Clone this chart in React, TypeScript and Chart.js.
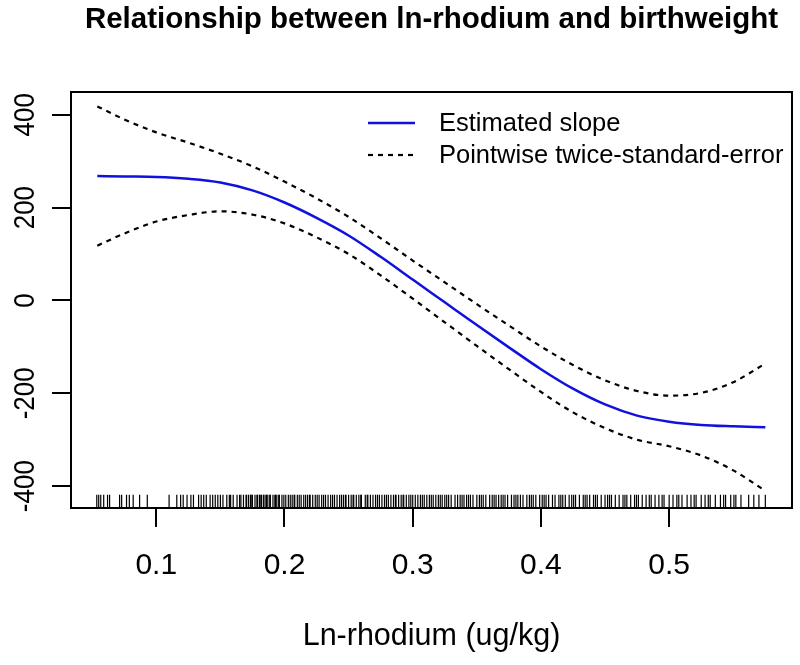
import React, { useEffect, useRef } from "react";
import { Chart, registerables } from "chart.js";

Chart.register(...registerables);

// ---- data ----
const xGrid = [0.054, 0.075, 0.1, 0.125, 0.15, 0.175, 0.2, 0.225, 0.25, 0.275, 0.3, 0.325, 0.35, 0.375, 0.4, 0.425, 0.45, 0.475, 0.5, 0.525, 0.55, 0.575];
const estimatedSlope = [268, 267, 266, 262, 254, 237, 211, 178, 140, 94, 45, -4, -53, -101, -148, -190, -224, -248, -261, -268, -271, -273];
const upperBand = [418, 390, 362, 340, 316, 289, 256, 220, 180, 134, 86, 39, -8, -54, -99, -139, -172, -195, -205, -199, -176, -136];
const lowerBand = [118, 144, 170, 184, 192, 185, 166, 136, 100, 54, 4, -47, -98, -148, -197, -241, -275, -300, -314, -334, -366, -410];

const rugValues = [
  0.0536, 0.0551, 0.0567, 0.059, 0.062, 0.0636, 0.0714, 0.073, 0.0768, 0.079, 0.082, 0.087, 0.093, 0.110,
  0.116, 0.119, 0.121, 0.124, 0.127, 0.129, 0.133, 0.135, 0.137, 0.139, 0.142, 0.144, 0.146, 0.148, 0.150,
  0.152, 0.155, 0.157, 0.158, 0.160, 0.163, 0.165, 0.166, 0.168, 0.170, 0.172, 0.174, 0.175, 0.177, 0.179,
  0.181, 0.182, 0.184, 0.186, 0.187, 0.189, 0.191, 0.193, 0.194, 0.196, 0.198, 0.201, 0.203, 0.206, 0.208,
  0.210, 0.213, 0.215, 0.218, 0.220, 0.222, 0.224, 0.227, 0.229, 0.232, 0.234, 0.236, 0.239, 0.241, 0.243,
  0.246, 0.248, 0.250, 0.252, 0.254, 0.256, 0.258, 0.260, 0.263, 0.265, 0.267, 0.269, 0.271, 0.274, 0.276,
  0.278, 0.281, 0.283, 0.285, 0.287, 0.289, 0.291, 0.293, 0.295, 0.297, 0.300, 0.302, 0.304, 0.306, 0.309,
  0.311, 0.313, 0.316, 0.318, 0.320, 0.323, 0.325, 0.328, 0.330, 0.333, 0.335, 0.337, 0.340, 0.342, 0.345,
  0.347, 0.350, 0.352, 0.355, 0.357, 0.360, 0.362, 0.365, 0.367, 0.369, 0.372, 0.374, 0.377, 0.379, 0.382,
  0.384, 0.386, 0.389, 0.391, 0.394, 0.396, 0.399, 0.401, 0.404, 0.406, 0.409, 0.411, 0.414, 0.417, 0.419,
  0.422, 0.424, 0.427, 0.430, 0.433, 0.436, 0.438, 0.441, 0.444, 0.447, 0.450, 0.452, 0.455, 0.458, 0.461,
  0.464, 0.467, 0.470, 0.473, 0.476, 0.479, 0.482, 0.486, 0.489, 0.492, 0.496, 0.500, 0.503, 0.506, 0.510,
  0.514, 0.517, 0.521, 0.525, 0.528, 0.532, 0.536, 0.540, 0.544, 0.548, 0.552, 0.556, 0.562, 0.566, 0.570, 0.575,
  0.1705, 0.1735, 0.1785, 0.1805, 0.1835, 0.1855, 0.1885, 0.1925, 0.1955, 0.1995, 0.2045, 0.2075, 0.2115,
  0.2165, 0.2195, 0.2255, 0.2305, 0.2375, 0.2445, 0.2475, 0.2535, 0.2595, 0.2645, 0.2725, 0.2795, 0.2865,
  0.2925, 0.2985, 0.3075, 0.3145, 0.3215, 0.3265, 0.3385, 0.3435, 0.3535, 0.3635, 0.3705, 0.3805, 0.3925,
  0.4025, 0.4155, 0.4255, 0.4345, 0.4425, 0.4535, 0.4655, 0.4745, 0.4845, 0.4945, 0.5075, 0.5195, 0.5305,
  0.5425, 0.5505,
];

const xTicks = [0.1, 0.2, 0.3, 0.4, 0.5];
const yTicks = [-400, -200, 0, 200, 400];
const xTickLabels = ["0.1", "0.2", "0.3", "0.4", "0.5"];
const yTickLabels = ["-400", "-200", "0", "200", "400"];

const titleText = "Relationship between ln-rhodium and birthweight";
const xAxisTitle = "Ln-rhodium (ug/kg)";
const seriesLabels = ["Estimated slope", "Pointwise twice-standard-error"];

// ---- styling / layout ----
const FONT = "'Liberation Sans', Arial, Helvetica, sans-serif";
const X_MIN = 0.0335;
const X_MAX = 0.5958;
const Y_MIN = -447;
const Y_MAX = 449;
const RUG_Y = -433;
const BLUE = "#1111dd";

const plotDecor = {
  id: "plotDecor",
  afterDraw(chart: any) {
    const { ctx, chartArea } = chart;
    const ys = chart.scales.y;
    ctx.save();
    // box
    ctx.strokeStyle = "#000";
    ctx.lineWidth = 2;
    ctx.setLineDash([]);
    ctx.strokeRect(chartArea.left, chartArea.top, chartArea.right - chartArea.left, chartArea.bottom - chartArea.top);

    // main title
    ctx.fillStyle = "#000";
    ctx.font = `bold 29.5px ${FONT}`;
    ctx.textAlign = "center";
    ctx.textBaseline = "alphabetic";
    ctx.fillText(titleText, (chartArea.left + chartArea.right) / 2, 28);

    // y tick labels (rotated, as in R)
    ctx.font = `26px ${FONT}`;
    yTicks.forEach((v, i) => {
      const py = ys.getPixelForValue(v);
      ctx.save();
      ctx.translate(33.5, py);
      ctx.scale(1.1, 1);
      ctx.rotate(-Math.PI / 2);
      ctx.textAlign = "center";
      ctx.textBaseline = "alphabetic";
      ctx.fillText(yTickLabels[i], 0, 0);
      ctx.restore();
    });

    // legend
    const ds = chart.data.datasets;
    const lx0 = 368, lx1 = 415, tx = 439;
    const rows = [123, 155];
    ctx.font = `25.5px ${FONT}`;
    ctx.textAlign = "left";
    ctx.textBaseline = "middle";
    [0, 1].forEach((k) => {
      const d = ds[k];
      ctx.beginPath();
      ctx.strokeStyle = d.borderColor;
      ctx.lineWidth = d.borderWidth;
      ctx.setLineDash(d.borderDash || []);
      ctx.moveTo(lx0, rows[k]);
      ctx.lineTo(lx1, rows[k]);
      ctx.stroke();
      ctx.setLineDash([]);
      ctx.fillStyle = "#000";
      ctx.fillText(d.label, tx, rows[k] + 1);
    });
    ctx.restore();
  },
};

export default function App() {
  const ref = useRef<HTMLCanvasElement | null>(null);

  useEffect(() => {
    if (!ref.current) return;
    const toPts = (ys: number[]) => xGrid.map((x, i) => ({ x, y: ys[i] }));
    const chart = new Chart(ref.current, {
      type: "scatter",
      data: {
        datasets: [
          {
            label: seriesLabels[0],
            data: toPts(estimatedSlope),
            showLine: true,
            borderColor: BLUE,
            borderWidth: 2.5,
            pointRadius: 0,
            cubicInterpolationMode: "monotone",
          } as any,
          {
            label: seriesLabels[1],
            data: toPts(upperBand),
            showLine: true,
            borderColor: "#000",
            borderWidth: 2.2,
            borderDash: [5, 5],
            pointRadius: 0,
            cubicInterpolationMode: "monotone",
          } as any,
          {
            label: seriesLabels[1] + " (lower)",
            data: toPts(lowerBand),
            showLine: true,
            borderColor: "#000",
            borderWidth: 2.2,
            borderDash: [5, 5],
            pointRadius: 0,
            cubicInterpolationMode: "monotone",
          } as any,
          {
            label: "rug",
            data: rugValues.map((x) => ({ x, y: RUG_Y })),
            showLine: false,
            pointStyle: "line",
            rotation: 90,
            pointRadius: 6.8,
            pointBorderWidth: 1.2,
            pointBorderColor: "#000",
            pointBackgroundColor: "#000",
            borderColor: "#000",
          } as any,
        ],
      },
      options: {
        animation: false,
        responsive: false,
        devicePixelRatio: 1,
        events: [],
        layout: { padding: { top: 92, right: 2, left: 0, bottom: 0 } },
        plugins: {
          legend: { display: false },
          tooltip: { enabled: false },
          title: { display: false },
        },
        scales: {
          x: {
            type: "linear",
            min: X_MIN,
            max: X_MAX,
            afterBuildTicks: (s: any) => {
              s.ticks = xTicks.map((v) => ({ value: v }));
            },
            afterFit: (s: any) => {
              s.height = 157;
              s.paddingLeft = 0;
              s.paddingRight = 0;
            },
            border: { display: false },
            grid: {
              display: true,
              drawOnChartArea: false,
              drawTicks: true,
              tickLength: 19,
              color: "#000",
              lineWidth: 2,
            },
            ticks: {
              autoSkip: false,
              maxRotation: 0,
              minRotation: 0,
              padding: 21,
              color: "#000",
              font: { family: FONT, size: 30 },
              callback: (v: any) => {
                const i = xTicks.indexOf(Number(v));
                return i >= 0 ? xTickLabels[i] : "";
              },
            },
            title: {
              display: true,
              text: xAxisTitle,
              color: "#000",
              font: { family: FONT, size: 30.5 },
              padding: { top: 0, bottom: 10.5 },
            },
          },
          y: {
            type: "linear",
            min: Y_MIN,
            max: Y_MAX,
            afterBuildTicks: (s: any) => {
              s.ticks = yTicks.map((v) => ({ value: v }));
            },
            afterFit: (s: any) => {
              s.width = 71;
              s.paddingTop = 0;
              s.paddingBottom = 0;
            },
            border: { display: false },
            grid: {
              display: true,
              drawOnChartArea: false,
              drawTicks: true,
              tickLength: 19,
              color: "#000",
              lineWidth: 2,
            },
            ticks: { display: false },
          },
        },
      } as any,
      plugins: [plotDecor],
    });
    return () => chart.destroy();
  }, []);

  return (
    <div style={{ position: "absolute", left: 0, top: 0, width: 800, height: 665, background: "#fff" }}>
      <canvas ref={ref} width={800} height={665} style={{ display: "block" }} />
    </div>
  );
}
